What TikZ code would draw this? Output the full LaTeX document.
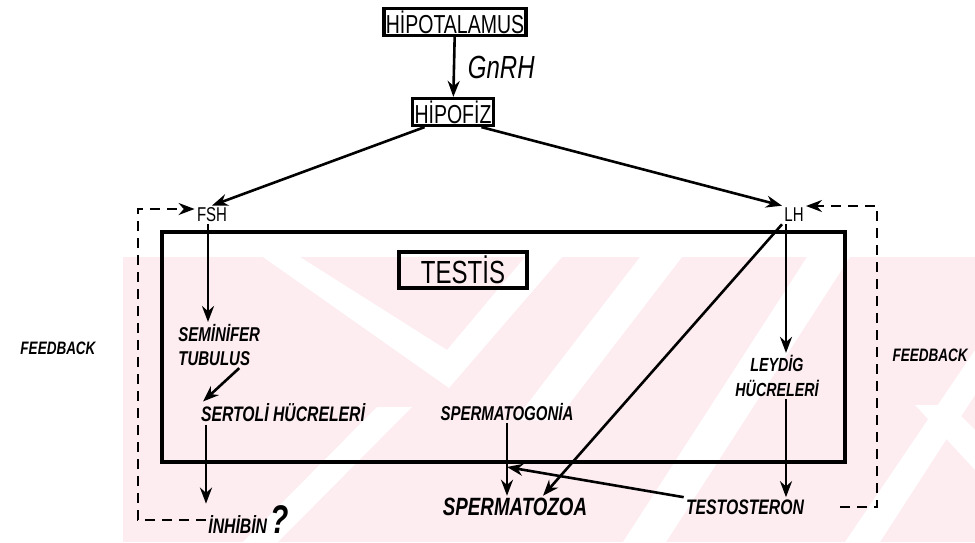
\documentclass[tikz,border=0pt]{standalone}
\usepackage{fontspec}
\setmainfont{Liberation Sans}
\newfontfamily\hand[FakeStretch=0.75]{Liberation Sans}
\usetikzlibrary{arrows.meta}
\definecolor{wmark}{RGB}{253,236,240}

\begin{document}
\begin{tikzpicture}[x=0.5pt,y=-0.5pt]
  \tikzstyle{hbox}=[draw,line width=1.7pt,inner xsep=3pt,inner ysep=3pt]
  \tikzstyle{caps}=[font=\hand\fontsize{10}{12}\selectfont,inner sep=1pt]
  \tikzstyle{hand}=[font=\hand\bfseries\itshape\fontsize{10}{12}\selectfont,inner sep=1pt]
  \tikzstyle{arr}=[-{Stealth[length=8pt,width=6pt]},line width=1.3pt]
  \tikzstyle{fb}=[line width=1.1pt,dash pattern=on 5pt off 3.5pt]
  \useasboundingbox (0,0) rectangle (975,542);
  % watermark in the background
  \fill[wmark] (123,257) rectangle (975,542);
  \fill[white] (263,257) -- (300,257) -- (447,350) -- (525,257) -- (562,257) -- (449,388) -- cycle;
  \fill[white] (640,257) -- (682,257) -- (557,420) -- (515,420) -- cycle;
  \fill[white] (807,257) -- (850,257) -- (666,542) -- (623,542) -- cycle;
  \fill[white] (377,407) -- (412,407) -- (278,542) -- (243,542) -- cycle;
  \fill[white] (975,350) -- (975,395) -- (880,542) -- (845,542) -- cycle;
  \fill[white] (915,405) -- (950,405) -- (975,430) -- (975,470) -- cycle;
  % testis
  \draw[line width=1.9pt] (162,232) rectangle (845,462);
  % nodes
  \node(hipo)[hbox,caps,font=\hand\fontsize{13}{15}\selectfont] at (455,22) {HİPOTALAMUS};
  \node(hipof)[hbox,caps,font=\hand\fontsize{13}{15}\selectfont] at (453,112) {HİPOFİZ};
  \node(fsh)[caps] at (212,215) {FSH};
  \node(lh)[caps] at (794,215) {LH};
  \node(testis)[hbox,caps,inner xsep=11pt,inner ysep=2pt,font=\hand\fontsize{16}{18}\selectfont] at (463,270) {TESTİS};
  \node(semi)[hand,align=left,anchor=north west] at (176,322) {SEMİNİFER\\TUBULUS};
  \node(sert)[hand,font=\hand\bfseries\itshape\fontsize{10.5}{12}\selectfont] at (283,413) {SERTOLİ HÜCRELERİ};
  \node(inh)[hand,anchor=west,font=\hand\bfseries\itshape\fontsize{10.5}{12}\selectfont] at (206,520) {İNHİBİN\,{\fontsize{20}{20}\selectfont ?}};
  \node(sgon)[hand] at (507,412) {SPERMATOGONİA};
  \node(szoa)[hand,font=\hand\bfseries\itshape\fontsize{12.5}{14}\selectfont] at (515,507) {SPERMATOZOA};
  \node(leyd)[hand,align=center,font=\hand\bfseries\itshape\fontsize{9.5}{12.5}\selectfont] at (777,376) {LEYDİG\\HÜCRELERİ};
  \node(test)[hand,font=\hand\bfseries\itshape\fontsize{10.5}{12}\selectfont] at (745,507) {TESTOSTERON};
  \node(fbl)[hand,font=\hand\bfseries\itshape\fontsize{9}{11}\selectfont] at (58,348) {FEEDBACK};
  \node(fbr)[hand,font=\hand\bfseries\itshape\fontsize{9}{11}\selectfont] at (930,355) {FEEDBACK};
  \coordinate(conv) at (507,467);
  \coordinate(cl) at (138,209);
  \coordinate(cr) at (877,206);
  % connectors
  \draw[arr] (hipo) -- (hipof) node[midway,right=3pt,font=\hand\itshape\fontsize{16}{18}\selectfont]{GnRH};
  \draw[arr] (hipof.208) -- (fsh.north);
  \draw[arr] (hipof.332) -- (lh.north west);
  \draw[arr] ([xshift=-2pt]fsh.south) -- ([xshift=-2pt]fsh.south |- semi.north);
  \draw[arr] ([xshift=10pt]semi.south) -- ([xshift=-40pt]sert.north);
  \draw[arr] (sert.south -| inh.west) -- (inh.north west);
  \draw[arr] (sgon.south) -- (sgon.south |- szoa.north);
  \draw[arr] (test.north west) -- (conv);
  \draw[arr] (lh.south west) -- ([xshift=14pt]szoa.north);
  \draw[arr] ([xshift=-4pt]lh.south) -- ([xshift=-4pt]lh.south |- leyd.north);
  \draw[arr] ([xshift=-4pt]lh.south |- leyd.south) -- ([xshift=-4pt]lh.south |- test.north);
  % feedback loops
  \draw[fb,arr,line width=1.1pt] (inh.west) -| (cl) -- (cl -| fsh.west);
  \draw[fb,arr,line width=1.1pt] ([xshift=17pt]test.east) -| (cr) -- (cr -| lh.east);
\end{tikzpicture}
\end{document}
